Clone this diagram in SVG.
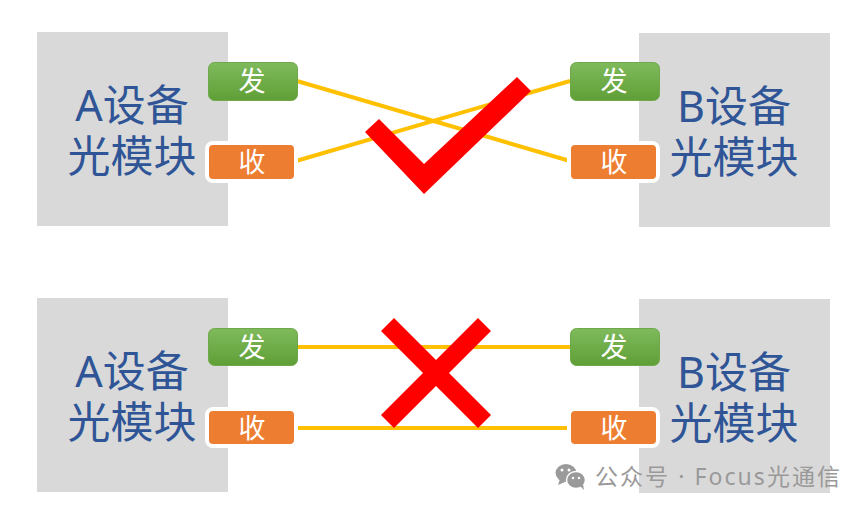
<svg xmlns="http://www.w3.org/2000/svg" width="867" height="511" viewBox="0 0 867 511">
<style>
.dev{fill:#d9d9d9}
.lab{font-family:"Noto Sans","Noto Sans CJK SC",sans-serif;font-size:43px;fill:#2f5597;text-anchor:middle}
.tag{font-family:"Noto Sans CJK SC",sans-serif;font-size:27px;fill:#fff;text-anchor:middle}
.tx{fill:url(#g);stroke:#6fa84a;stroke-width:1}
.rx{fill:#ed7d31;stroke:#fff;stroke-width:4}
.ln{stroke:#ffc000;stroke-width:4;fill:none}
.mk{fill:#f00}
</style>
<defs>
<linearGradient id="g" x1="0" y1="0" x2="0" y2="1"><stop offset="0" stop-color="#7fba5c"/><stop offset="1" stop-color="#5f9f36"/></linearGradient>
</defs>
<rect width="867" height="511" fill="#fff"/>
<g id="device-a-top"><rect class="dev" x="37" y="32" width="191" height="194"/><text class="lab" y="121"><tspan x="132">A设备</tspan><tspan x="132" dy="51">光模块</tspan></text></g>
<g id="device-b-top"><rect class="dev" x="639" y="33" width="191" height="194"/><text class="lab" y="122"><tspan x="734">B设备</tspan><tspan x="734" dy="51">光模块</tspan></text></g>
<g id="device-a-bottom"><rect class="dev" x="37" y="298" width="191" height="194"/><text class="lab" y="387"><tspan x="132">A设备</tspan><tspan x="132" dy="51">光模块</tspan></text></g>
<g id="device-b-bottom"><rect class="dev" x="639" y="299" width="191" height="194"/><text class="lab" y="388"><tspan x="734">B设备</tspan><tspan x="734" dy="51">光模块</tspan></text></g>
<g id="connectors">
<path class="ln" d="M297 81L570 161M296 161L570 81M297 347H571M296 428H571"/>
</g>
<g id="tx-a-top"><rect class="tx" x="208.500" y="62.500" width="89" height="38" rx="6"/><text class="tag" x="252" y="91">发</text></g>
<g id="rx-a-top"><rect class="rx" x="207" y="143" width="89" height="38" rx="6"/><text class="tag" x="252" y="172">收</text></g>
<g id="tx-b-top"><rect class="tx" x="570.500" y="62.500" width="89" height="38" rx="6"/><text class="tag" x="614" y="91">发</text></g>
<g id="rx-b-top"><rect class="rx" x="569" y="143" width="89" height="38" rx="6"/><text class="tag" x="614" y="172">收</text></g>
<g id="tx-a-bottom"><rect class="tx" x="208.500" y="328.500" width="89" height="37" rx="6"/><text class="tag" x="252" y="357">发</text></g>
<g id="rx-a-bottom"><rect class="rx" x="207" y="409" width="89" height="37" rx="6"/><text class="tag" x="252" y="438">收</text></g>
<g id="tx-b-bottom"><rect class="tx" x="570.500" y="328.500" width="89" height="37" rx="6"/><text class="tag" x="614" y="357">发</text></g>
<g id="rx-b-bottom"><rect class="rx" x="569" y="409" width="89" height="37" rx="6"/><text class="tag" x="614" y="438">收</text></g>
<g id="check"><polygon class="mk" points="365,132 379,119 424,164 517,77 531,91 424,194"/></g>
<g id="cross"><polygon class="mk" points="381,331 394,318 436,360 478,318 491,331 449,373 491,415 478,428 436,386 394,428 381,415 423,373"/></g>
<g id="watermark">
<g fill="#9a9a9a"><ellipse cx="566" cy="473" rx="10.500" ry="9"/><path d="M560 479l-2 6 7-3z"/></g>
<g fill="#9a9a9a" stroke="#fff" stroke-width="1.500"><ellipse cx="576" cy="480" rx="9.500" ry="8.500"/></g>
<path d="M580 486l4 4-1-6z" fill="#9a9a9a"/>
<g fill="#fff"><circle cx="562" cy="470" r="1.500"/><circle cx="569" cy="470" r="1.500"/><circle cx="573" cy="478" r="1.200"/><circle cx="579" cy="478" r="1.200"/></g>
<text x="595" y="485" font-family="'Noto Sans','Noto Sans CJK SC',sans-serif" font-size="23" fill="#999" textLength="245" lengthAdjust="spacing">公众号 · Focus光通信</text>
</g>
</svg>
